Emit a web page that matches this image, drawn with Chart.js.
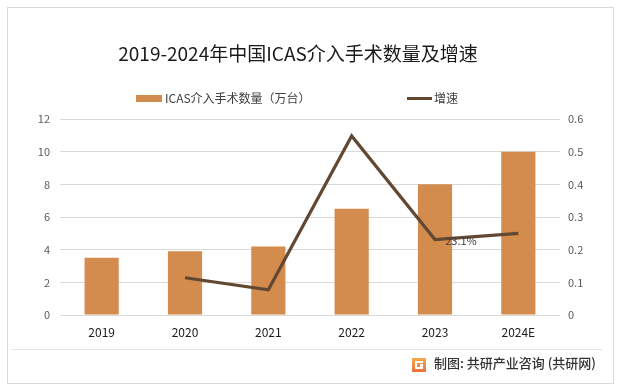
<!DOCTYPE html>
<html lang="zh">
<head>
<meta charset="UTF-8">
<title>2019-2024年中国ICAS介入手术数量及增速</title>
<script src="https://cdn.jsdelivr.net/npm/chart.js"></script>
<style>
  * { box-sizing: border-box; margin: 0; padding: 0; }
  body { width: 621px; height: 391px; background: #fff; overflow: hidden; position: relative; }
  .frame { position: absolute; left: 7px; top: 7px; width: 607px; height: 377px; border: 1px solid #d9d9d9; }
  .wrap { position: absolute; left: 0; top: 0; width: 621px; height: 391px; }
</style>
</head>
<body>
<div class="frame"></div>
<div class="wrap"><canvas id="chart" width="621" height="391"></canvas></div>
<script>
// 数据
const years = ['2019', '2020', '2021', '2022', '2023', '2024E'];
const volume = [3.5, 3.9, 4.2, 6.5, 8.0, 10.0];          // 万台
const growth = [null, 0.114, 0.077, 0.548, 0.231, 0.25]; // 增速
const leftTicks = [0, 2, 4, 6, 8, 10, 12];
const rightTicks = [0, 0.1, 0.2, 0.3, 0.4, 0.5, 0.6];
const labelIndex = 4; // 只标 2023 的 23.1%

const FONT = '"Noto Sans CJK SC", "Noto Sans", sans-serif';
const BAR = '#D38B4E';
const LINE = '#634831';

// 标题、图例、数据标签、底部来源
const decor = {
  id: 'decor',
  afterDraw(chart) {
    const c = chart.ctx;
    c.save();
    c.textBaseline = 'middle';

    c.fillStyle = '#1a1a1a';
    c.font = '19px ' + FONT;
    c.textAlign = 'center';
    c.fillText('2019-2024年中国ICAS介入手术数量及增速', 298, 54);

    c.textAlign = 'left';
    c.font = '12px ' + FONT;
    c.fillStyle = BAR;
    c.fillRect(136, 95, 26, 7);
    c.fillStyle = '#404040';
    c.fillText('ICAS介入手术数量（万台）', 165, 98);
    c.strokeStyle = LINE;
    c.lineWidth = 3;
    c.beginPath(); c.moveTo(407, 98.5); c.lineTo(432, 98.5); c.stroke();
    c.fillText('增速', 434, 98);

    // 数据标签
    const meta = chart.getDatasetMeta(1);
    const pt = meta.data[labelIndex];
    c.font = '11px ' + FONT;
    c.fillStyle = '#404040';
    c.textAlign = 'center';
    c.fillText((growth[labelIndex] * 100).toFixed(1) + '%', pt.x + 26, pt.y + 1);

    // 底部
    c.strokeStyle = '#e3e3e3';
    c.lineWidth = 1;
    c.beginPath(); c.moveTo(12, 349.5); c.lineTo(602, 349.5); c.stroke();
    const g = c.createLinearGradient(412, 357, 412, 373);
    g.addColorStop(0, '#f7b04a'); g.addColorStop(1, '#ee6a3a');
    c.fillStyle = g;
    c.fillRect(412, 358, 14, 14);
    c.fillStyle = '#fff';
    c.fillRect(415, 361, 8, 2);
    c.fillRect(415, 361, 2, 8);
    c.fillRect(415, 367, 8, 2);
    c.fillRect(420, 364, 3, 5);
    c.fillStyle = '#333';
    c.font = '500 13px ' + FONT;
    c.textAlign = 'left';
    c.fillText('制图: 共研产业咨询 (共研网)', 434, 363);
    c.restore();
  }
};

new Chart(document.getElementById('chart'), {
  data: {
    labels: years,
    datasets: [
      {
        type: 'bar', label: 'ICAS介入手术数量（万台）', data: volume,
        backgroundColor: BAR, yAxisID: 'y', order: 2,
        categoryPercentage: 1, barPercentage: 0.41
      },
      {
        type: 'line', label: '增速', data: growth,
        borderColor: LINE, borderWidth: 3.2, pointRadius: 0, tension: 0,
        yAxisID: 'y1', order: 1, spanGaps: false
      }
    ]
  },
  options: {
    responsive: false,
    animation: false,
    layout: { padding: { top: 119, bottom: 46, left: 0, right: 0 } },
    plugins: { legend: { display: false }, title: { display: false }, tooltip: { enabled: false } },
    scales: {
      x: {
        grid: { display: false, drawTicks: false },
        border: { display: false },
        ticks: { color: '#1a1a1a', font: { size: 12, family: FONT }, padding: 10 },
        afterFit(s) { s.height = 30; }
      },
      y: {
        position: 'left', min: 0, max: 12,
        afterBuildTicks(s) { s.ticks = leftTicks.map(v => ({ value: v })); },
        grid: { color: '#d9d9d9', drawTicks: false },
        border: { display: false },
        ticks: { color: '#595959', font: { size: 11, family: FONT }, padding: 10 },
        afterFit(s) { s.width = 60; }
      },
      y1: {
        position: 'right', min: 0, max: 0.6,
        afterBuildTicks(s) { s.ticks = rightTicks.map(v => ({ value: v })); },
        grid: { display: false, drawTicks: false },
        border: { display: false },
        ticks: { color: '#595959', font: { size: 11, family: FONT }, padding: 8,
                 callback: v => String(Math.round(v * 10) / 10) },
        afterFit(s) { s.width = 61; }
      }
    }
  },
  plugins: [decor]
});
</script>
</body>
</html>
